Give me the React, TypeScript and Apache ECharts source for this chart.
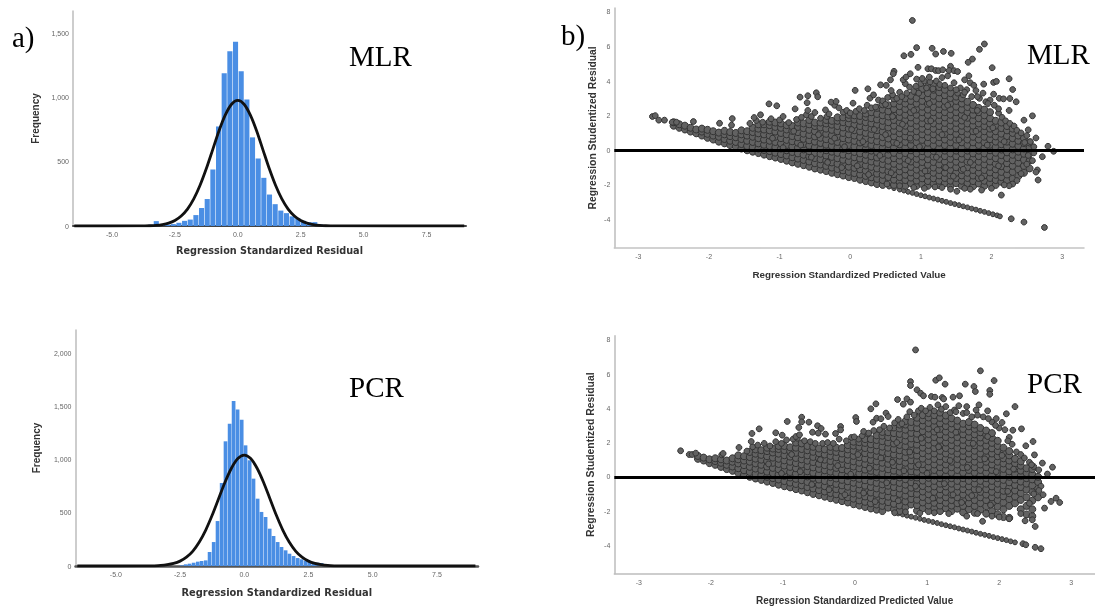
import React, { useEffect, useRef } from "react";
import * as echarts from "echarts";

const histTicksX = [-5, -2.5, 0, 2.5, 5, 7.5];
const mlrHistTicksY = [0, 500, 1000, 1500];
const pcrHistTicksY = [0, 500, 1000, 1500, 2000];
const scatterTicksX = [-3, -2, -1, 0, 1, 2, 3];
const scatterTicksY = [-4, -2, 0, 2, 4, 6, 8];

const mlrBins = [-3.69,-3.465,-3.24,-3.015,-2.79,-2.565,-2.34,-2.115,-1.89,-1.665,-1.44,-1.215,-0.99,-0.765,-0.54,-0.315,-0.09,0.135,0.36,0.585,0.81,1.035,1.26,1.485,1.71,1.935,2.16,2.385,2.61,2.835,3.06,3.285,3.51,3.735];
const mlrCounts = [8,10,38,15,10,15,25,40,50,85,140,210,440,775,1190,1360,1435,1205,985,690,525,375,245,170,120,100,75,60,40,30,30,12,8,5];
const pcrBins = [-2.44,-2.28,-2.13,-1.97,-1.81,-1.66,-1.5,-1.35,-1.19,-1.04,-0.88,-0.73,-0.57,-0.415,-0.26,-0.1,0.05,0.21,0.36,0.52,0.67,0.83,0.99,1.14,1.3,1.45,1.61,1.76,1.92,2.08,2.23,2.39,2.54,2.7,2.85,3.01,3.16,3.32];
const pcrCounts = [6,16,22,31,41,47,53,132,226,424,783,1176,1342,1557,1475,1380,1138,997,824,635,510,462,352,283,226,179,148,116,94,75,63,50,41,38,31,28,16,6];

const curveX = [-6.5,-4,-3.75,-3.5,-3.25,-3,-2.75,-2.5,-2.25,-2,-1.75,-1.5,-1.25,-1,-0.75,-0.5,-0.25,0,0.25,0.5,0.75,1,1.25,1.5,1.75,2,2.25,2.5,2.75,3,3.25,3.5,3.75,4,9];
const mlrCurveY = [0,0.3,1,2,5,11,22,43,78,132,211,317,447,593,740,863,948,978,948,863,740,593,447,317,211,132,78,43,22,11,5,2,1,0.3,0];
const pcrCurveY = [0,0.3,1,2,5,12,24,46,83,141,226,339,478,634,790,922,1013,1045,1013,922,790,634,478,339,226,141,83,46,24,12,5,2,1,0.3,0];

// Each row: x, then the y values read at that x.
const mlrDense = [
[-2.5,1.42,1.62],[-2.42,1.3,1.5],[-2.34,1.2,1.42],[-2.26,1.08,1.3],[-2.18,.98,1.2],[-2.1,.85,1.08,1.25],[-2.02,.72,.95,1.18],[-1.94,.62,.85,1.1],[-1.86,.5,.78,1.02],[-1.78,.4,.65,.92,1.12],[-1.7,.3,.55,.82,1.05],[-1.62,.2,.48,.75,1],[-1.54,.1,.36,.65,.92,1.15],[-1.46,0,.25,.55,.85,1.1],[-1.38,-.08,.18,.48,.78,1.05,1.3],[-1.3,-.16,.1,.4,.7,.98,1.25,1.5],[-1.22,-.25,.02,.32,.62,.92,1.2,1.5],[-1.14,-.34,-.05,.25,.55,.85,1.15,1.45,1.65],[-1.06,-.42,-.14,.18,.48,.78,1.08,1.35,1.6],[-.98,-.5,-.22,.1,.4,.7,1,1.3,1.55],[-.9,-.6,-.3,0,.3,.6,.92,1.2,1.45],[-.82,-.7,-.4,-.1,.22,.52,.82,1.12,1.4],[-.74,-.78,-.48,-.18,.14,.44,.75,1.05,1.35,1.6],[-.66,-.86,-.56,-.26,.05,.36,.66,.96,1.28,1.55],[-.58,-.95,-.65,-.35,-.05,.28,.58,.88,1.18,1.5,1.75],[-.5,-1.05,-.75,-.45,-.15,.18,.5,.8,1.1,1.4,1.6],[-.42,-1.12,-.82,-.52,-.2,.1,.42,.72,1.02,1.32,1.6],[-.34,-1.2,-.9,-.6,-.3,0,.32,.64,.95,1.25,1.55,1.75],[-.26,-1.3,-1,-.7,-.38,-.08,.25,.55,.86,1.18,1.48,1.7],[-.18,-1.38,-1.08,-.78,-.46,-.15,.16,.48,.78,1.1,1.4,1.7,1.9],[-.1,-1.46,-1.16,-.86,-.55,-.25,.08,.38,.7,1,1.32,1.62,1.9],[-.02,-1.55,-1.25,-.95,-.64,-.32,0,.3,.62,.92,1.25,1.55,1.85,2.05],
[.06,-1.6,-1.32,-1.02,-.72,-.4,-.1,.22,.54,.85,1.16,1.48,1.78,2.02],[.14,-1.7,-1.4,-1.1,-.8,-.48,-.18,.14,.45,.76,1.08,1.4,1.7,1.98],[.22,-1.78,-1.48,-1.18,-.88,-.56,-.26,.06,.38,.68,1,1.32,1.62,1.92,2.12],[.3,-1.86,-1.56,-1.26,-.96,-.65,-.35,-.02,.3,.6,.92,1.24,1.55,1.85,2.2],[.38,-1.95,-1.65,-1.35,-1.05,-.72,-.42,-.1,.22,.52,.85,1.16,1.48,1.78,2.1,2.45],[.46,-2,-1.72,-1.42,-1.12,-.8,-.5,-.18,.14,.45,.76,1.08,1.4,1.7,2.02,2.35,2.65],[.54,-1.85,-1.55,-1.22,-.9,-.6,-.26,.05,.36,.68,1,1.32,1.62,1.95,2.25,2.6],[.62,-2,-1.7,-1.38,-1.08,-.78,-.46,-.15,.16,.48,.8,1.12,1.42,1.75,2.05,2.38,2.7,3],[.7,-1.85,-1.55,-1.22,-.92,-.6,-.3,.02,.34,.65,.98,1.28,1.6,1.92,2.22,2.55,2.85],[.78,-2.05,-1.72,-1.42,-1.1,-.8,-.48,-.16,.15,.48,.8,1.1,1.42,1.75,2.05,2.38,2.7,3],[.86,-1.9,-1.58,-1.28,-.96,-.65,-.33,0,.3,.62,.95,1.26,1.58,1.9,2.2,2.52,2.85,3.15],[.94,-2.05,-1.75,-1.44,-1.12,-.8,-.5,-.18,.14,.46,.78,1.1,1.42,1.72,2.05,2.36,2.7,3,3.4],[1.02,-1.95,-1.62,-1.3,-1,-.68,-.36,-.05,.28,.6,.92,1.24,1.55,1.88,2.2,2.52,2.85,3.18,3.55],[1.1,-2.05,-1.78,-1.46,-1.15,-.84,-.52,-.2,.12,.44,.76,1.08,1.4,1.72,2.04,2.35,2.68,3,3.3,3.7],[1.18,-1.92,-1.62,-1.3,-1,-.68,-.36,-.04,.28,.6,.92,1.24,1.55,1.88,2.2,2.5,2.85,3.15,3.5,3.82],[1.26,-2.02,-1.76,-1.45,-1.14,-.82,-.5,-.2,.12,.44,.76,1.08,1.4,1.72,2.04,2.36,2.68,3,3.35,3.65],[1.34,-1.9,-1.6,-1.3,-.98,-.66,-.34,-.02,.3,.62,.94,1.26,1.58,1.9,2.2,2.52,2.85,3.18,3.5],[1.42,-2.05,-1.76,-1.45,-1.14,-.82,-.5,-.18,.14,.46,.78,1.1,1.42,1.74,2.05,2.38,2.7,3.02,3.3],[1.5,-1.9,-1.6,-1.3,-.98,-.66,-.34,-.02,.3,.62,.94,1.26,1.58,1.88,2.2,2.52,2.85,3.1],[1.58,-2.05,-1.76,-1.45,-1.14,-.82,-.5,-.18,.14,.46,.78,1.1,1.42,1.72,2.04,2.35,2.7,3],[1.66,-1.9,-1.6,-1.3,-.98,-.66,-.34,-.02,.3,.62,.94,1.26,1.55,1.88,2.2,2.5,2.8],[1.74,-2.08,-1.78,-1.46,-1.14,-.82,-.5,-.18,.14,.46,.78,1.1,1.42,1.72,2.05,2.35,2.62],[1.82,-1.92,-1.6,-1.3,-.98,-.66,-.34,-.02,.3,.62,.94,1.26,1.55,1.85,2.2,2.45],[1.9,-2.05,-1.76,-1.45,-1.14,-.82,-.5,-.18,.14,.46,.78,1.1,1.4,1.7,2.02,2.35],[1.98,-1.9,-1.6,-1.28,-.96,-.65,-.33,0,.32,.64,.95,1.25,1.55,1.85,2.2],[2.06,-2,-1.72,-1.42,-1.1,-.78,-.46,-.14,.18,.5,.8,1.1,1.42,1.7],[2.14,-1.82,-1.55,-1.25,-.92,-.6,-.28,.04,.35,.66,.96,1.28,1.6],[2.22,-1.75,-1.4,-1.08,-.75,-.45,-.12,.2,.5,.82,1.15,1.4],[2.3,-1.65,-1.25,-.9,-.58,-.26,.05,.38,.7,1,1.25],[2.38,-1.5,-1.1,-.72,-.4,-.08,.25,.55,.85],[2.46,-1.3,-.9,-.55,-.2,.1,.42,.7],[2.54,-1.05,-.6,-.2,.15,.45],
];
const mlrEdge = [[-1.42,1.55],[-1.33,1.72],[-1.24,1.62],[-1.12,1.82],[-1,1.75],[-.95,1.95],[-.87,1.6],[-.76,1.78],[-.69,1.9],[-.62,2.05],[-.55,1.95],[-.5,2.18],[-.6,2.3],[-.42,1.85],[-.33,1.95],[-.3,2.1],[-.22,2.6],[-.16,2.45],[-.1,2.2],[-.05,2.3],[0,2.15],[.08,2.25],[.13,2.4],[.2,2.3],[.24,2.6],[.3,2.45],[.36,2.5],[.4,2.9],[.46,2.85],[.5,2.65],[.53,3.05],[.6,3.2],[.58,3.45],[.66,3],[.7,3.35],[.73,3.1],[.8,3.3],[.84,3.65],[.78,3.85],[.9,3.4],[.93,3.7],[.97,3.3],[1,3.85],[1.05,4],[1.08,3.6],[1.13,3.95],[1.17,3.55],[1.22,4],[1.27,3.8],[1.3,4.2],[1.34,3.75],[1.38,4.3],[1.42,3.6],[1.47,3.9],[1.52,3.3],[1.56,3.6],[1.6,3.2],[1.65,3.5],[1.7,3.9],[1.72,3.1],[1.78,3.45],[1.83,3],[1.88,3.3],[1.92,2.8],[1.98,2.9],[2.04,2.6],[2.1,2.15],[2.15,1.9],[2.2,1.7],[2.26,1.55],[2.32,1.4],[2.36,1.15],[2.42,1],[2.5,.85],[2.47,.45],[2.55,.5],[2.6,.2],[2.52,-.3],[2.6,-.15],[2.5,-.8],[2.42,-1.35],[2.36,-1.75],[2.3,-1.95],[2.25,-2.05],[2.18,-2],[2,-2.2],[1.86,-2.3],[1.7,-2.25],[1.62,-2.2],[1.42,-2.25],[1.3,-2.15],[1.05,-2.2],[.9,-2.15],[.7,-2.05],[.52,-1.95],
[-1.1,.7],[-.95,.15],[-.8,1.1],[-.7,.3],[-.55,-.4],[-.45,.9],[-.32,-.7],[-.22,.7],[-.12,-1],[-.08,.2],[.02,1.2],[.1,-.9],[.18,.5],[.26,-1.4],[.34,1.2],[.42,-.3],[.5,.9],[.58,-1.3],[.66,.4],[.74,1.5],[.82,-.6],[.9,2.3],[.98,.2],[1.06,-1.2],[1.14,1.7],[1.22,-.4],[1.3,.9],[1.38,2.6],[1.46,-1.5],[1.54,.6],[1.62,1.9],[1.7,-.7],[1.78,1.1],[1.86,-1.6],[1.94,.3],[2.02,1.3],[2.1,-.9],[2.18,.5],[.6,1.95],[.85,.7],[1.12,2.7],[1.35,-1],[1.6,-1.1],[1.8,2.3]];
const mlrStreak = [[.55,-2.1],[.62,-2.19],[.7,-2.27],[.76,-2.33],[.82,-2.4],[.88,-2.46],[.94,-2.53],[1,-2.6],[1.06,-2.66],[1.12,-2.73],[1.18,-2.79],[1.24,-2.85],[1.3,-2.92],[1.36,-2.98],[1.42,-3.05],[1.48,-3.11],[1.54,-3.17],[1.6,-3.24],[1.66,-3.3],[1.72,-3.37],[1.78,-3.43],[1.84,-3.5],[1.9,-3.56],[1.96,-3.63],[2.02,-3.7],[2.08,-3.76],[2.12,-3.82]];
const mlrOutliers = [[.88,7.5],[.94,5.93],[.76,5.46],[.86,5.54],[1.16,5.89],[1.21,5.56],[1.32,5.71],[1.43,5.6],[1.83,5.83],[1.9,6.14],[1.73,5.27],[1.67,5.08],[2.01,4.77],[.96,4.79],[1.1,4.71],[1.15,4.71],[1.21,4.61],[1.25,4.6],[1.31,4.65],[1.42,4.85],[1.4,4.61],[1.47,4.6],[1.52,4.55],[2.25,4.13],[2.3,3.51],[2.35,2.8],[2.58,1.99],[2.46,1.74],[2.52,1.18],[2.63,.71],[2.8,.23],[2.88,-.06],[2.72,-.37],[2.58,-.6],[2.65,-1.14],[2.63,-1.26],[2.66,-1.72],[2.14,-2.59],[1.51,-2.37],[1.2,-2.12],[2.28,-3.96],[2.46,-4.15],[2.75,-4.46],[-2.8,1.95],[-2.76,2],[-2.71,1.74],[-2.63,1.74],[-2.52,1.62],[-2.46,1.62],[-2.22,1.66],[-1.85,1.56],[-1.67,1.83],[-1.68,1.45],[-1.36,1.89],[-1.27,2.05],[-1.15,2.68],[-1.04,2.57],[-.78,2.39],[-.71,3.07],[-.6,3.15],[-.48,3.32],[-.46,3.09],[-.61,2.75],[-.35,2.33],[-.27,2.78],[-.2,2.82],[.07,3.46],[.25,3.55],[.04,2.72],[.28,3.01],[.33,3.2],[.43,3.78],[.51,3.75],[.62,4.56],[.61,4.42],[.57,4.07],[.75,4.07],[.79,4.23],[.85,4.42],[.94,4.11],[1.02,4.15],[1.12,4.23],[1.68,4.3],[1.62,4.07],[1.75,3.75],[1.89,3.82],[2.03,3.92],[2.07,3.98],[2.03,3.24],[2.11,3],[2.17,2.97],[2.26,2.99],[1.5,3.5],[1.62,3.35],[1.8,3.1],[1.95,2.7],[2.1,2.4],[2.25,2.3]];

const pcrDense = [
[-2.18,1.05,1.22],[-2.1,.95,1.12],[-2.02,.8,1.02],[-1.94,.7,.92,1.08],[-1.86,.58,.82,1.02],[-1.78,.45,.7,.95],[-1.7,.35,.6,.88,1.08],[-1.62,.22,.5,.78,1.02,1.25],[-1.54,.1,.38,.68,.95,1.2],[-1.46,0,.28,.58,.88,1.15,1.45],[-1.38,-.1,.18,.48,.78,1.06,1.35,1.6],[-1.3,-.18,.1,.4,.7,1,1.28,1.55],[-1.22,-.28,0,.3,.6,.92,1.2,1.5,1.7],[-1.14,-.36,-.08,.22,.52,.82,1.12,1.42,1.65],[-1.06,-.46,-.16,.14,.44,.75,1.05,1.35,1.62,1.8],[-.98,-.55,-.25,.05,.35,.66,.96,1.26,1.56,1.8],[-.9,-.62,-.34,-.04,.28,.58,.88,1.18,1.5,1.72],[-.82,-.72,-.42,-.12,.18,.5,.8,1.1,1.4,1.7,2],[-.74,-.8,-.5,-.2,.1,.42,.72,1.02,1.32,1.62,1.95],[-.66,-.9,-.6,-.3,.02,.32,.62,.94,1.25,1.55,1.8],[-.58,-1,-.68,-.38,-.06,.24,.55,.86,1.16,1.46,1.75],[-.5,-1.08,-.78,-.46,-.16,.15,.46,.76,1.08,1.38,1.65],[-.42,-1.16,-.86,-.55,-.25,.08,.38,.68,1,1.3,1.6],[-.34,-1.25,-.95,-.64,-.32,-.02,.3,.6,.92,1.22,1.5,1.75],[-.26,-1.34,-1.02,-.72,-.42,-.1,.22,.52,.84,1.14,1.45,1.7],[-.18,-1.42,-1.12,-.8,-.5,-.18,.12,.44,.75,1.05,1.36,1.68],[-.1,-1.5,-1.2,-.9,-.58,-.26,.05,.36,.68,.98,1.3,1.6,1.85],[-.02,-1.6,-1.28,-.98,-.66,-.35,-.04,.28,.6,.9,1.22,1.52,1.82,2.05],
[.06,-1.68,-1.38,-1.06,-.75,-.44,-.12,.2,.5,.82,1.14,1.45,1.75,2.02],[.14,-1.76,-1.46,-1.15,-.84,-.52,-.2,.12,.42,.74,1.06,1.38,1.68,1.98,2.2],[.22,-1.85,-1.55,-1.24,-.92,-.6,-.28,.04,.35,.66,.98,1.3,1.6,1.9,2.2],[.3,-1.92,-1.62,-1.32,-1,-.68,-.36,-.04,.28,.6,.9,1.22,1.52,1.84,2.15,2.42],[.38,-2,-1.7,-1.4,-1.08,-.76,-.44,-.12,.2,.52,.82,1.14,1.45,1.76,2.08,2.4,2.62],[.46,-1.8,-1.48,-1.16,-.84,-.52,-.2,.12,.44,.75,1.06,1.38,1.7,2,2.32,2.6],[.54,-1.9,-1.58,-1.24,-.92,-.6,-.28,.04,.36,.68,1,1.3,1.62,1.94,2.25,2.55,2.88],[.62,-2,-1.68,-1.34,-1,-.68,-.36,-.04,.28,.6,.92,1.24,1.55,1.86,2.18,2.5,2.82,3.05],[.7,-1.78,-1.44,-1.1,-.78,-.46,-.14,.18,.5,.82,1.14,1.46,1.78,2.1,2.42,2.75,3.05,3.25],[.78,-1.62,-1.3,-.96,-.64,-.32,0,.32,.64,.96,1.28,1.6,1.92,2.24,2.56,2.88,3.2],[.86,-1.98,-1.66,-1.34,-1,-.68,-.36,-.04,.28,.6,.92,1.24,1.56,1.88,2.2,2.52,2.84,3.16,3.45],[.94,-1.84,-1.5,-1.18,-.86,-.54,-.22,.1,.42,.74,1.06,1.38,1.7,2.02,2.34,2.66,2.98,3.3,3.6],[1.02,-2,-1.68,-1.36,-1.02,-.7,-.38,-.06,.26,.58,.9,1.22,1.54,1.86,2.18,2.5,2.82,3.14,3.46,3.72],[1.1,-1.84,-1.52,-1.2,-.88,-.56,-.24,.08,.4,.72,1.04,1.36,1.68,2,2.32,2.64,2.96,3.28,3.6],[1.18,-2,-1.68,-1.36,-1.04,-.72,-.4,-.08,.24,.56,.88,1.2,1.52,1.84,2.16,2.48,2.8,3.12,3.44,3.75],[1.26,-1.84,-1.52,-1.2,-.88,-.56,-.24,.08,.4,.72,1.04,1.36,1.68,2,2.32,2.64,2.96,3.28,3.58],[1.34,-2,-1.68,-1.36,-1.04,-.72,-.4,-.08,.24,.56,.88,1.2,1.52,1.84,2.16,2.48,2.8,3.12,3.42],[1.42,-1.86,-1.54,-1.2,-.88,-.56,-.24,.08,.4,.72,1.04,1.36,1.68,2,2.32,2.64,2.96,3.28],[1.5,-2.08,-1.7,-1.36,-1.04,-.72,-.4,-.08,.24,.56,.88,1.2,1.52,1.84,2.16,2.48,2.8,3.1],[1.58,-1.9,-1.54,-1.2,-.88,-.56,-.24,.08,.4,.72,1.04,1.36,1.68,2,2.32,2.64,2.95,3.2],[1.66,-2.1,-1.7,-1.36,-1.04,-.72,-.4,-.08,.24,.56,.88,1.2,1.52,1.84,2.16,2.48,2.8,3.05],[1.74,-1.92,-1.54,-1.2,-.88,-.56,-.24,.08,.4,.72,1.04,1.36,1.68,2,2.3,2.6,2.85],[1.82,-2.15,-1.72,-1.36,-1.04,-.72,-.4,-.08,.24,.56,.88,1.2,1.52,1.82,2.15,2.45,2.7],[1.9,-2,-1.56,-1.2,-.88,-.56,-.24,.08,.4,.72,1.04,1.36,1.66,1.98,2.28,2.55],[1.98,-2.2,-1.75,-1.36,-1.04,-.72,-.4,-.08,.24,.56,.88,1.2,1.5,1.8,2.1],[2.06,-2.35,-1.9,-1.5,-1.14,-.82,-.5,-.18,.14,.46,.78,1.08,1.4,1.7],[2.14,-2.4,-1.7,-1.3,-.96,-.64,-.32,0,.32,.64,.95,1.25,1.5],[2.22,-1.55,-1.15,-.8,-.48,-.16,.16,.48,.78,1.05],[2.3,-1.9,-1.35,-.95,-.6,-.28,.04,.36,.65,.9],[2.38,-2.2,-1.7,-1.2,-.75,-.4,-.08,.22,.5],[2.46,-2.3,-1.9,-1.4,-.9,-.5,-.15,.15,.45],[2.54,-1.2,-.7,-.3,0],
];
const pcrEdge = [[-1.5,1.5],[-1.42,1.75],[-1.35,1.85],[-1.26,1.95],[-1.18,1.8],[-1.1,2.05],[-1.02,1.95],[-.95,2.15],[-.86,2.2],[-.8,2.25],[-.7,2.1],[-.62,2.05],[-.55,1.95],[-.45,1.95],[-.38,2],[-.3,1.95],[-.22,2.2],[-.12,2.1],[-.05,2.3],[.05,2.2],[.1,2.4],[.18,2.5],[.26,2.7],[.34,2.75],[.4,2.95],[.48,2.85],[.55,3.15],[.6,3.35],[.65,3.1],[.72,3.5],[.76,3.8],[.82,3.6],[.88,3.85],[.92,4],[.98,3.85],[1.04,4.05],[1.1,3.85],[1.15,4.2],[1.2,3.95],[1.26,4.1],[1.32,3.75],[1.38,3.9],[1.44,4.15],[1.5,3.7],[1.55,4.1],[1.62,3.5],[1.68,3.9],[1.72,4.2],[1.78,3.5],[1.84,3.85],[1.9,3.2],[1.96,3.4],[2,2.85],[2.08,2.75],[2.14,2.3],[2.18,1.9],[2.24,1.45],[2.3,1.3],[2.35,1.1],[2.42,.85],[2.48,.6],[2.55,.4],[2.45,.7],[2.58,-.55],[2.55,-.8],[2.48,-1],[2.42,-1.55],[2.3,-2.15],[2,-2.35],[1.9,-2.3],[1.7,-2.15],[1.55,-2.3],[1.3,-2.15],[1.1,-2.1],[.9,-2.12],[.7,-2.05],[.55,-2.1],
[-1.2,.75],[-1.02,.2],[-.88,1.3],[-.76,.3],[-.6,-.45],[-.48,1],[-.36,-.75],[-.24,.65],[-.14,-1.05],[-.06,.15],[.04,1.3],[.12,-.95],[.2,.5],[.28,-1.45],[.36,1.1],[.44,-.35],[.52,.85],[.6,-1.4],[.68,.35],[.76,1.45],[.84,-.55],[.92,2.25],[1,.2],[1.08,-1.25],[1.16,1.75],[1.24,-.4],[1.32,.95],[1.4,2.6],[1.48,-1.5],[1.56,.55],[1.64,1.95],[1.72,-.75],[1.8,1.05],[1.88,-1.65],[1.96,.3],[2.04,1.25],[2.12,-.85],[2.2,.45],[.58,2],[.88,.7],[1.14,2.75],[1.36,-1.05],[1.62,-1.1],[1.84,2.35]];
const pcrStreak = [[.6,-2.14],[.66,-2.2],[.72,-2.27],[.78,-2.33],[.84,-2.39],[.9,-2.45],[.96,-2.52],[1.02,-2.58],[1.08,-2.64],[1.14,-2.7],[1.2,-2.77],[1.26,-2.83],[1.32,-2.89],[1.38,-2.95],[1.44,-3.02],[1.5,-3.08],[1.56,-3.14],[1.62,-3.2],[1.68,-3.27],[1.74,-3.33],[1.8,-3.39],[1.86,-3.45],[1.92,-3.52],[1.98,-3.58],[2.04,-3.64],[2.1,-3.7],[2.16,-3.77],[2.22,-3.83]];
const pcrOutliers = [[.84,7.41],[1.74,6.19],[1.93,5.62],[1.12,5.64],[1.17,5.78],[1.25,5.41],[.77,5.56],[.77,5.33],[.86,5.08],[.91,4.88],[.95,4.73],[1.53,5.41],[1.65,5.27],[1.67,4.98],[1.87,5.04],[1.87,4.82],[1.06,4.69],[1.11,4.65],[1.21,4.63],[1.23,4.55],[1.36,4.65],[1.45,4.73],[.59,4.51],[.72,4.55],[.67,4.24],[.77,4.36],[.29,4.26],[.22,3.97],[2.22,4.1],[2.1,3.68],[2.04,3.17],[2.31,2.8],[2.19,2.72],[2.47,2.06],[2.37,1.81],[2.49,1.28],[2.6,.8],[2.74,.56],[2.67,.16],[2.61,-1.05],[2.79,-1.25],[2.84,-1.5],[2.72,-1.44],[2.63,-1.83],[2.5,-2.9],[2.46,-2.51],[2.36,-2.57],[1.77,-2.6],[2.14,-2.45],[2.5,-4.12],[2.58,-4.2],[2.33,-3.91],[2.37,-3.97],[-2.42,1.52],[-2.3,1.3],[-2.26,1.3],[-2.21,1.38],[-1.85,1.28],[-1.83,1.36],[-1.61,1.71],[-1.43,2.53],[-1.33,2.8],[-1.44,2.06],[-1.1,2.57],[-1.01,2.43],[-.94,3.23],[-.78,2.88],[-.74,3.48],[-.74,3.21],[-.64,3.19],[-.52,2.98],[-.47,2.82],[-.59,2.6],[-.51,2.55],[-.41,2.49],[-.82,2.35],[-.77,2.45],[-.27,2.53],[-.2,2.94],[-.2,2.74],[.01,3.46],[.02,3.23],[-.01,2.33],[.12,2.65],[.19,2.55],[.25,3.19],[.3,3.42],[.36,3.39],[.43,3.72],[.46,3.52],[1.4,3.8],[1.55,3.75],[1.7,3.6],[1.85,3.4],[1.95,3],[2.12,2.1]];

const toPoints = (rows: number[][]) => rows.flatMap((r) => r.slice(1).map((y) => [r[0], y]));
const zip = (xs: number[], ys: number[]) => xs.map((x, i) => [x, ys[i]]);
const thousands = (v: number) => v.toLocaleString("en-US");

const SANS = "'Liberation Sans', Arial, sans-serif";
const WIDE = "'DejaVu Sans', sans-serif";
const SERIF = "'Liberation Serif', 'Times New Roman', serif";
const NAME_COLOR = "#333";
const LABEL_COLOR = "#666";

function makeAxisX(gridIndex: number, min: number, max: number, ticks: number[], name: string, nameGap: number, nameFont: string, nameSize: number, lineColor: string, lineWidth: number, fmt?: (v: number) => string) {
  return {
    type: "value", gridIndex, min, max, name, nameLocation: "middle", nameGap,
    nameTextStyle: { fontFamily: nameFont, fontSize: nameSize, fontWeight: "bold", color: NAME_COLOR },
    axisLine: { show: true, onZero: false, lineStyle: { color: lineColor, width: lineWidth } },
    axisTick: { show: false }, splitLine: { show: false },
    axisLabel: { customValues: ticks, margin: 5, fontFamily: SANS, fontSize: 7, color: LABEL_COLOR, formatter: fmt },
  };
}
function makeAxisY(gridIndex: number, min: number, max: number, ticks: number[], name: string, nameGap: number, nameSize: number, fmt?: (v: number) => string) {
  return {
    type: "value", gridIndex, min, max, name, nameLocation: "middle", nameGap,
    nameTextStyle: { fontFamily: SANS, fontSize: nameSize, fontWeight: "bold", color: NAME_COLOR },
    axisLine: { show: true, onZero: false, lineStyle: { color: "#bdbdbd", width: 1.5 } },
    axisTick: { show: false }, splitLine: { show: false },
    axisLabel: { customValues: ticks, margin: 4, fontFamily: SANS, fontSize: 7, color: LABEL_COLOR, formatter: fmt },
  };
}
const barSeries = (i: number, xs: number[], ys: number[], w: number) => ({
  type: "bar", xAxisIndex: i, yAxisIndex: i, barWidth: w, data: zip(xs, ys),
  itemStyle: { color: "#4a8ee4" }, silent: true,
});
const curveSeries = (i: number, xs: number[], ys: number[]) => ({
  type: "line", xAxisIndex: i, yAxisIndex: i, data: zip(xs, ys), showSymbol: false, smooth: 0.3, z: 5,
  lineStyle: { color: "#111", width: 2.8 }, silent: true,
});
const scatterSeries = (i: number, pts: number[][], size: number, layer: number, withZeroLine = false) => ({
  type: "scatter", xAxisIndex: i, yAxisIndex: i, data: pts, symbolSize: size, silent: true,
  itemStyle: { color: "#626262", borderColor: "#333", borderWidth: 1, opacity: 1 },
  z: layer,
  markLine: withZeroLine ? {
    silent: true, symbol: "none", label: { show: false }, animation: false, z: 6,
    lineStyle: { color: "#000", width: 3, type: "solid" }, data: [{ yAxis: 0 }],
  } : undefined,
});
const label = (text: string, left: number, top: number, size = 29) => ({
  type: "text", left, top, z: 20,
  style: { text, font: `${size}px ${SERIF}`, fill: "#000" },
});

const xLabelFixed = (v: number) => v.toFixed(1);

export default function App() {
  const ref = useRef<HTMLDivElement>(null);
  useEffect(() => {
    document.body.style.margin = "0";
    const chart = echarts.init(ref.current!, undefined, { renderer: "svg" });
    chart.setOption({
      animation: false,
      backgroundColor: "#fff",
      grid: [
        { left: 73, top: 11, width: 393, height: 215 },
        { left: 75.5, top: 330, width: 402.5, height: 236 },
        { left: 614.3, top: 8, width: 469.7, height: 239.7 },
        { left: 614.3, top: 335.7, width: 480.7, height: 238 },
      ],
      xAxis: [
        makeAxisX(0, -6.55, 9.07, histTicksX, "Regression Standardized Residual", 19, WIDE, 9.7, "#444", 2, xLabelFixed),
        makeAxisX(1, -6.57, 9.1, histTicksX, "Regression Standardized Residual", 21, WIDE, 9.9, "#555", 2.5, xLabelFixed),
        makeAxisX(2, -3.34, 3.31, scatterTicksX, "Regression Standardized Predicted Value", 21.5, SANS, 9.8, "#c4c4c4", 1.5),
        makeAxisX(3, -3.34, 3.33, scatterTicksX, "Regression Standardized Predicted Value", 21.5, SANS, 10, "#bdbdbd", 1.5),
      ],
      yAxis: [
        makeAxisY(0, 0, 1674, mlrHistTicksY, "Frequency", 33, 10, thousands),
        makeAxisY(1, 0, 2226, pcrHistTicksY, "Frequency", 34, 10, thousands),
        makeAxisY(2, -5.63, 8.22, scatterTicksY, "Regression Studentized Residual", 17, 10.3),
        makeAxisY(3, -5.66, 8.24, scatterTicksY, "Regression Studentized Residual", 19, 10.4),
      ],
      series: [
        barSeries(0, mlrBins, mlrCounts, 5.1),
        curveSeries(0, curveX, mlrCurveY),
        barSeries(1, pcrBins, pcrCounts, 3.7),
        curveSeries(1, curveX, pcrCurveY),
        scatterSeries(2, mlrStreak, 4.8, 2),
        scatterSeries(2, toPoints(mlrDense), 7, 2),
        scatterSeries(2, [...mlrEdge, ...mlrOutliers], 5.8, 3, true),
        scatterSeries(3, pcrStreak, 4.8, 2),
        scatterSeries(3, toPoints(pcrDense), 7, 2),
        scatterSeries(3, [...pcrEdge, ...pcrOutliers], 5.8, 3, true),
      ],
      graphic: [
        label("a)", 12, 22),
        label("MLR", 349, 41),
        label("PCR", 349, 372),
        label("b)", 561, 20),
        label("MLR", 1027, 39),
        label("PCR", 1027, 368),
      ],
    });
    return () => chart.dispose();
  }, []);
  return <div ref={ref} style={{ position: "fixed", left: 0, top: 0, width: 1095, height: 608, filter: "blur(0.4px)" }} />;
}
